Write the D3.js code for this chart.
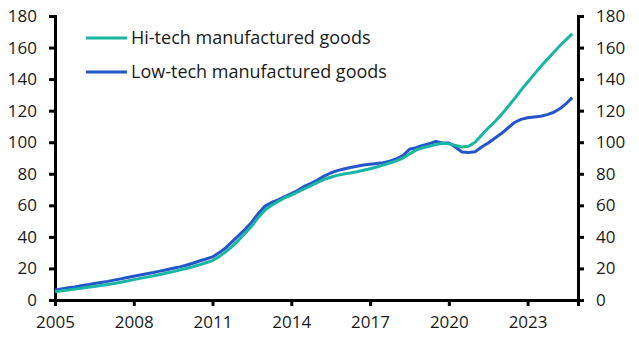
<!DOCTYPE html>
<html>
<head>
<meta charset="utf-8">
<script src="https://cdn.jsdelivr.net/npm/d3@7"></script>
<style>
  body { margin: 0; background: #fff; }
  text { font-family: "Open Sans", sans-serif; fill: #1a1a1a; }
</style>
</head>
<body>
<div id="chart-area"></div>
<script>
// quarterly points, decimal years
var dates = [2005.0, 2005.25, 2005.5, 2005.75, 2006.0, 2006.25, 2006.5, 2006.75,
	2007.0, 2007.25, 2007.5, 2007.75, 2008.0, 2008.25, 2008.5, 2008.75,
	2009.0, 2009.25, 2009.5, 2009.75, 2010.0, 2010.25, 2010.5, 2010.75,
	2011.0, 2011.25, 2011.5, 2011.75, 2012.0, 2012.25, 2012.5, 2012.75,
	2013.0, 2013.25, 2013.5, 2013.75, 2014.0, 2014.25, 2014.5, 2014.75,
	2015.0, 2015.25, 2015.5, 2015.75, 2016.0, 2016.25, 2016.5, 2016.75,
	2017.0, 2017.25, 2017.5, 2017.75, 2018.0, 2018.25, 2018.5, 2018.75,
	2019.0, 2019.25, 2019.5, 2019.75, 2020.0, 2020.25, 2020.5, 2020.75,
	2021.0, 2021.25, 2021.5, 2021.75, 2022.0, 2022.25, 2022.5, 2022.75,
	2023.0, 2023.25, 2023.5, 2023.75, 2024.0, 2024.25, 2024.5, 2024.7];

var hiTech = [5.3, 5.8, 6.3, 6.9, 7.5, 8.1, 8.6, 9.2,
	9.8, 10.5, 11.2, 12.0, 12.9, 13.7, 14.5, 15.3,
	16.2, 17.1, 18.0, 19.0, 20.0, 21.1, 22.3, 23.6,
	25.0, 27.5, 30.5, 34.0, 38.0, 42.5, 47.0, 52.5,
	57.0, 60.0, 62.5, 64.8, 66.5, 68.5, 70.5, 72.5,
	74.5, 76.5, 77.8, 79.0, 79.8, 80.5, 81.3, 82.2,
	83.2, 84.3, 85.5, 86.8, 88.2, 90.0, 92.5, 95.0,
	96.5, 97.5, 98.5, 99.3, 99.0, 98.0, 97.0, 97.5,
	100.0, 104.5, 109.0, 113.0, 117.5, 122.5, 127.5, 133.0,
	138.0, 143.0, 148.0, 152.5, 157.0, 161.5, 165.5, 168.7];

var lowTech = [6.3, 7.0, 7.7, 8.3, 9.0, 9.7, 10.4, 11.1,
	11.8, 12.6, 13.4, 14.2, 15.0, 15.8, 16.6, 17.4,
	18.3, 19.2, 20.1, 21.0, 22.0, 23.3, 24.7, 26.0,
	27.3, 30.0, 33.0, 37.0, 41.0, 45.0, 49.5, 55.0,
	59.5, 61.8, 63.5, 65.5, 67.5, 69.5, 72.0, 74.0,
	76.0, 78.5, 80.5, 82.0, 83.0, 84.0, 84.8, 85.5,
	86.0, 86.5, 87.0, 88.0, 89.5, 91.5, 95.5, 96.5,
	98.0, 99.0, 100.5, 99.5, 99.5, 97.0, 93.8, 93.5,
	94.0, 97.0, 99.5, 102.5, 105.5, 109.0, 112.5, 114.5,
	115.5, 116.0, 116.5, 117.5, 119.0, 121.5, 125.0, 128.3];

var seriesNames = ['Hi-tech manufactured goods', 'Low-tech manufactured goods'];
var seriesColors = ['#1ab5a3', '#2356c8'];
var xTicks = [2005, 2008, 2011, 2014, 2017, 2020, 2023];
var yTicks = [0, 20, 40, 60, 80, 100, 120, 140, 160, 180];

var margin = { top: 16, right: 61, bottom: 47, left: 55 };
var width = 639 - margin.left - margin.right;
var height = 347 - margin.top - margin.bottom;

var svg = d3.select('#chart-area').append('svg')
	.attr('width', 639)
	.attr('height', 347);
var g = svg.append('g').attr('transform', `translate(${margin.left}, ${margin.top})`);

var x = d3.scaleLinear().domain([2005, 2024.92]).range([0, width]);
var y = d3.scaleLinear().domain([0, 180]).range([height, 0]);

var fontSize = '17px';

var yLeft = g.append('g').call(d3.axisLeft(y).tickValues(yTicks).tickSize(6).tickPadding(12));
var yRight = g.append('g').attr('transform', `translate(${width}, 0)`)
	.call(d3.axisRight(y).tickValues(yTicks).tickSize(6).tickPadding(12));
var xAxis = g.append('g').attr('transform', `translate(0, ${height})`)
	.call(d3.axisBottom(x).tickValues(xTicks).tickFormat(d3.format('d')).tickSize(6).tickPadding(10));

[yLeft, yRight, xAxis].forEach(a => {
	a.select('.domain').attr('stroke', '#000').attr('stroke-width', 3);
	a.selectAll('.tick line').attr('stroke', '#000').attr('stroke-width', 3);
	a.selectAll('text').attr('font-size', fontSize).attr('font-family', '"Open Sans", sans-serif').attr('fill', '#1a1a1a');
});

var line = d3.line().x(d => x(d[0])).y(d => y(d[1]));

[lowTech, hiTech].forEach(vals => {
	var idx = vals === hiTech ? 0 : 1;
	g.append('path')
		.datum(dates.map((d, j) => [d, vals[j]]))
		.attr('fill', 'none')
		.attr('stroke', seriesColors[idx])
		.attr('stroke-width', 3)
		.attr('stroke-linejoin', 'round')
		.attr('d', line);
});

// legend
var legend = svg.append('g');
seriesNames.forEach((name, i) => {
	var ly = 38 + i * 34;
	legend.append('line')
		.attr('x1', 86).attr('x2', 127)
		.attr('y1', ly).attr('y2', ly)
		.attr('stroke', seriesColors[i])
		.attr('stroke-width', 3);
	legend.append('text')
		.attr('x', 131).attr('y', ly)
		.attr('dy', '0.35em')
		.attr('font-size', '18px')
		.text(name);
});
</script>
</body>
</html>
